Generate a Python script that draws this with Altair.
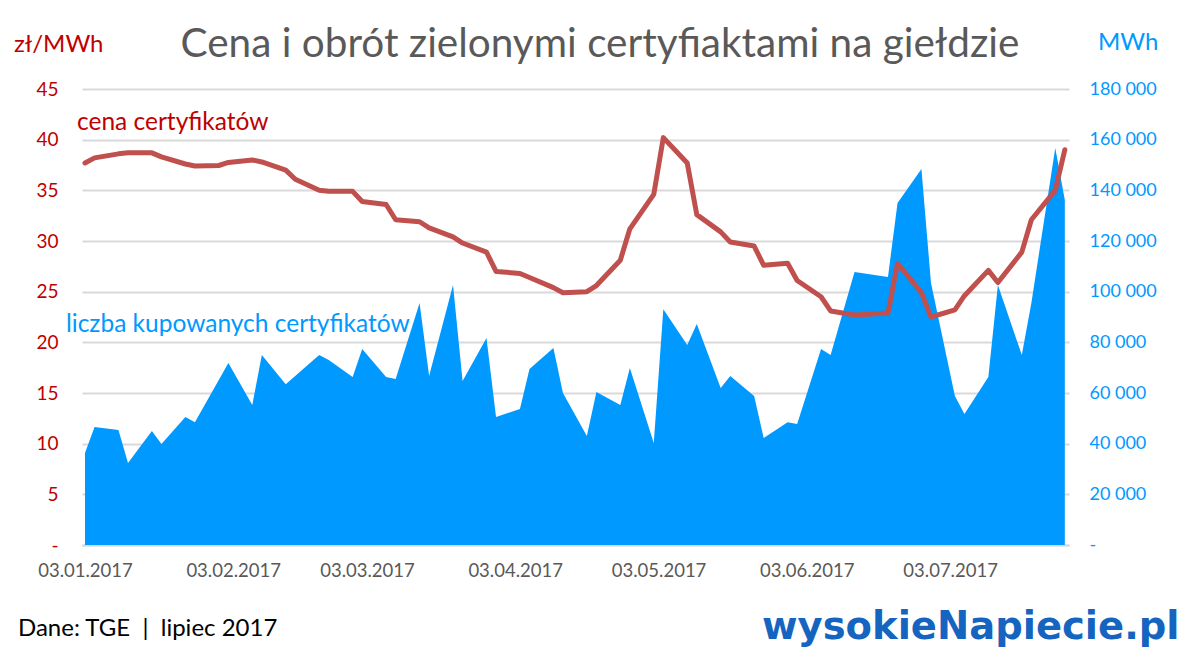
import altair as alt
import pandas as pd

# ---------------- data ----------------
vol_dates = ["2017-01-03","2017-01-05","2017-01-10","2017-01-12","2017-01-17","2017-01-19",
             "2017-01-24","2017-01-26","2017-02-02","2017-02-07","2017-02-09","2017-02-14",
             "2017-02-21","2017-02-23","2017-02-28","2017-03-02","2017-03-07","2017-03-09",
             "2017-03-14","2017-03-16","2017-03-21","2017-03-23","2017-03-28","2017-03-30",
             "2017-04-04","2017-04-06","2017-04-11","2017-04-13","2017-04-18","2017-04-20",
             "2017-04-25","2017-04-27","2017-05-02","2017-05-04","2017-05-09","2017-05-11",
             "2017-05-16","2017-05-18","2017-05-23","2017-05-25","2017-05-30","2017-06-01",
             "2017-06-06","2017-06-08","2017-06-13","2017-06-20","2017-06-22","2017-06-27",
             "2017-06-29","2017-07-04","2017-07-06","2017-07-11","2017-07-13","2017-07-18",
             "2017-07-20","2017-07-25","2017-07-27"]
vol_values = [36300, 46600, 45400, 32400, 45000, 39900, 50500, 48500, 71800, 55300,
              75000, 63500, 75000, 73000, 66300, 77400, 66300, 65500, 95500, 66700,
              102600, 64700, 81700, 50500, 53700, 69500, 77800, 60000, 43000, 60400,
              55300, 69900, 40300, 93100, 78900, 87200, 62000, 66700, 58800, 42200,
              48500, 47800, 77400, 75000, 107800, 105800, 135000, 148400, 103400, 58800,
              51700, 66300, 102600, 75000, 95500, 156700, 136200]

price_dates = ["2017-01-03","2017-01-05","2017-01-10","2017-01-12","2017-01-17","2017-01-19",
               "2017-01-24","2017-01-26","2017-01-31","2017-02-02","2017-02-07","2017-02-09",
               "2017-02-14","2017-02-16","2017-02-21","2017-02-23","2017-02-28","2017-03-02",
               "2017-03-07","2017-03-09","2017-03-14","2017-03-16","2017-03-21","2017-03-23",
               "2017-03-28","2017-03-30","2017-04-04","2017-04-06","2017-04-11","2017-04-13",
               "2017-04-18","2017-04-20","2017-04-25","2017-04-27","2017-05-02","2017-05-04",
               "2017-05-09","2017-05-11","2017-05-16","2017-05-18","2017-05-23","2017-05-25",
               "2017-05-30","2017-06-01","2017-06-06","2017-06-08","2017-06-13","2017-06-15",
               "2017-06-20","2017-06-22","2017-06-27","2017-06-29","2017-07-04","2017-07-06",
               "2017-07-11","2017-07-13","2017-07-18","2017-07-20","2017-07-25","2017-07-27"]
price_values = [37.7, 38.2, 38.6, 38.7, 38.7, 38.3, 37.6, 37.4, 37.45, 37.75,
                38.0, 37.8, 37.0, 36.1, 35.0, 34.9, 34.9, 33.9, 33.6, 32.1,
                31.9, 31.3, 30.4, 29.8, 28.9, 27.0, 26.8, 26.4, 25.4, 24.9,
                25.0, 25.6, 28.1, 31.2, 34.6, 40.2, 37.7, 32.6, 30.9, 29.9,
                29.5, 27.6, 27.8, 26.1, 24.5, 23.1, 22.7, 22.75, 22.9, 27.8,
                24.9, 22.5, 23.2, 24.6, 27.1, 25.9, 28.9, 32.1, 35.0, 39.0]

x_ticks = [(2017, 1, 3), (2017, 2, 3), (2017, 3, 3), (2017, 4, 3),
           (2017, 5, 3), (2017, 6, 3), (2017, 7, 3)]

title_text = "Cena i obrót zielonymi certyfiaktami na giełdzie"
left_unit = "zł/MWh"
right_unit = "MWh"
price_label = "cena certyfikatów"
vol_label = "liczba kupowanych certyfikatów"
source_text = "Dane: TGE\u00a0\u00a0|\u00a0\u00a0lipiec 2017"
logo_text = "wysokieNapiecie.pl"

# ---------------- styling ----------------
RED = "#C00000"
LINE_RED = "#C0504D"
BLUE = "#0099FF"
GRID = "#D9D9D9"
GRAY = "#595959"
FONT = "Lato"

W, H = 987, 456

vol_df = pd.DataFrame({"date": vol_dates, "vol": vol_values})
price_df = pd.DataFrame({"date": price_dates, "price": price_values})

x_scale = alt.Scale(
    type="utc",
    domain=[alt.DateTime(year=2017, month=1, date=2, hours=9, utc=True),
            alt.DateTime(year=2017, month=7, date=27, hours=21, utc=True)],
)
x_axis = alt.Axis(
    values=[alt.DateTime(year=y, month=m, date=d, utc=True) for (y, m, d) in x_ticks],
    labelExpr="utcFormat(datum.value, '%d.%m.%Y')",
    title=None, grid=False, ticks=False, domain=True, domainColor=GRID, domainWidth=2,
    labelColor=GRAY, labelFont=FONT, labelFontSize=18.5, labelPadding=16,
)

area = alt.Chart(vol_df).mark_area(color=BLUE, opacity=1).encode(
    x=alt.X("date:T", scale=x_scale, axis=x_axis),
    y=alt.Y("vol:Q", scale=alt.Scale(domain=[0, 180000], nice=False),
            axis=alt.Axis(orient="right", title=None, values=list(range(0, 180001, 20000)),
                          labelExpr="datum.value == 0 ? '-' : replace(format(datum.value, ',d'), ',', ' ')",
                          grid=False, ticks=False, domain=False, labelColor=BLUE,
                          labelFont=FONT, labelFontSize=18, labelPadding=20)),
)

line = alt.Chart(price_df).mark_line(color=LINE_RED, strokeWidth=5, strokeJoin="round",
                                     strokeCap="round").encode(
    x=alt.X("date:T", scale=x_scale, axis=x_axis),
    y=alt.Y("price:Q", scale=alt.Scale(domain=[0, 45], nice=False),
            axis=alt.Axis(orient="left", title=None, values=list(range(0, 46, 5)),
                          labelExpr="datum.value == 0 ? '-' : datum.label",
                          grid=True, gridColor=GRID, gridWidth=2, ticks=False, domain=False,
                          labelColor=RED, labelFont=FONT, labelFontSize=19, labelPadding=24)),
)

def label(txt, x, y, color, size, align="left", weight="normal", font=FONT):
    return alt.Chart(pd.DataFrame({"t": [txt]})).mark_text(
        align=align, baseline="middle", color=color, fontSize=size, font=font,
        fontWeight=weight,
    ).encode(text="t:N", x=alt.value(x), y=alt.value(y))

texts = [
    label(title_text, 518, -44, GRAY, 40.5, align="center"),
    label(left_unit, -68, -44, RED, 24),
    label(right_unit, 1016, -46, BLUE, 24),
    label(price_label, -5, 34, RED, 24.5),
    label(vol_label, -16, 236, BLUE, 24.5),
    label(source_text, -64, 540, "#000000", 24),
    label(logo_text, 680, 538, "#1565C0", 38.5, weight="bold", font="DejaVu Sans"),
]

chart = alt.layer(area, line, *texts).resolve_scale(y="independent").properties(
    width=W, height=H,
    padding={"left": 74, "top": 81, "right": 120, "bottom": 112},
    autosize=alt.AutoSizeParams(type="none"),
).configure_view(stroke=None)

chart.save("out.html", embed_options={"renderer": "svg", "actions": False})
